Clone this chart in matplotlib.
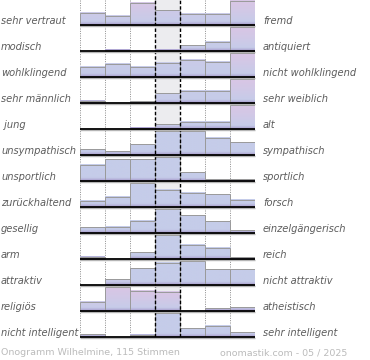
import numpy as np
import matplotlib
matplotlib.use('Agg')
import matplotlib.pyplot as plt
from matplotlib.transforms import blended_transform_factory
from matplotlib.colors import to_rgb

## Daten
left_labels = ['sehr vertraut', 'modisch', 'wohlklingend', 'sehr männlich', ' jung',
               'unsympathisch', 'unsportlich', 'zurückhaltend', 'gesellig', 'arm',
               'attraktiv', 'religiös', 'nicht intelligent']
right_labels = ['fremd', 'antiquiert', 'nicht wohlklingend', 'sehr weiblich', 'alt',
                'sympathisch', 'sportlich', 'forsch', 'einzelgängerisch', 'reich',
                'nicht attraktiv', 'atheistisch', 'sehr intelligent']

# relative Balkenhöhe je Zeile (100 = höchster Balken der Zeile)
row_values = [
    [51, 38, 90, 61, 45, 45, 100],
    [0, 6, 0, 6, 24, 38, 100],
    [41, 55, 41, 59, 71, 63, 100],
    [9, 0, 7, 39, 49, 49, 100],
    [0, 0, 5, 19, 29, 29, 100],
    [23, 15, 43, 100, 97, 71, 53],
    [67, 89, 89, 100, 35, 8, 8],
    [26, 42, 100, 70, 59, 53, 29],
    [24, 26, 51, 100, 72, 47, 12],
    [9, 0, 27, 100, 58, 45, 8],
    [0, 24, 69, 90, 100, 65, 65],
    [38, 100, 82, 79, 0, 11, 15],
    [12, 0, 9, 100, 36, 45, 19],
]
# Farbton je Balken: 0 = blau, 1 = rosa
row_tint = [
    [0.3, 0.2, 0.7, 0.3, 0.2, 0.2, 0.8],
    [0.1, 0.1, 0.1, 0.1, 0.1, 0.1, 0.8],
    [0.1, 0.1, 0.1, 0.1, 0.2, 0.1, 0.8],
    [0.1, 0.1, 0.1, 0.1, 0.1, 0.1, 0.8],
    [0.1, 0.1, 0.1, 0.1, 0.1, 0.1, 0.8],
    [0.0] * 7,
    [0.0] * 7,
    [0.0] * 7,
    [0.0] * 7,
    [0.0] * 7,
    [0.0, 0.2, 0.0, 0.0, 0.0, 0.0, 0.0],
    [0.3, 0.8, 0.8, 0.8, 0.0, 0.1, 0.1],
    [0.0] * 7,
]
footer_left = 'Onogramm Wilhelmine, 115 Stimmen'
footer_right = 'onomastik.com - 05 / 2025'

## Farben
blue = np.array(to_rgb('#c5cce9'))
pink = np.array(to_rgb('#dcc5e4'))
purple = np.array(to_rgb('#a495c8'))

W, H = 370, 360
fig = plt.figure(figsize=(W / 100, H / 100), dpi=100)
fig.patch.set_facecolor('white')
ax = fig.add_axes([80 / W, 23 / H, 175 / W, 337 / H])
ax.set_axis_off()

nrows = len(row_values)
nbins = 7
px = 26.0  # Pixel pro Zeile
full_h = 24.5 / px

ax.axvspan(3, 4, color='#ececef', zorder=0, lw=0)

for i in range(nrows):
    base = nrows - 1 - i
    for j in range(nbins):
        v = row_values[i][j]
        if v <= 0:
            continue
        h = v / 100 * full_h
        hp = h * px
        n = 60
        yy = np.linspace(0, hp, n)
        frac = yy / max(hp, 1e-6)
        t = row_tint[i][j] * np.clip(frac * 1.3 - 0.1, 0, 1)
        col = blue[None, :] * (1 - t[:, None]) + pink[None, :] * t[:, None]
        w = np.clip(1 - yy / 3.5, 0, 1) ** 1.2
        col = col * (1 - w[:, None]) + purple[None, :] * w[:, None]
        img = col[:, None, :]
        ax.imshow(img, extent=(j, j + 1, base, base + h), aspect='auto',
                  origin='lower', interpolation='bilinear', zorder=2)
        ax.bar(j, h, width=1, bottom=base, align='edge', fill=False,
               edgecolor='#9a9a9a', linewidth=0.7, zorder=3)

# senkrechte Linien
for x in [0, 1, 2, 5, 6, 7]:
    ax.axvline(x, color='#8a8a8a', lw=0.7, linestyle=(0, (1, 1.4)), zorder=1)
for x in [3, 4]:
    ax.axvline(x, color='black', lw=1.0, linestyle=(0, (2.5, 1.5)), zorder=4)

# Grundlinien
for i in range(nrows):
    base = nrows - 1 - i
    ax.hlines(base - 1.3 / px, 0, 7, color='#b5b5b5', lw=1.0, zorder=4, clip_on=False)
    ax.hlines(base, 0, 7, color='black', lw=1.3, zorder=5, clip_on=False)

ax.set_xlim(0, 7)
ax.set_ylim(0, 337 / px)

trans = blended_transform_factory(fig.transFigure, ax.transData)
for i in range(nrows):
    base = nrows - 1 - i
    ax.text(1 / W, base + 1.2 / px, left_labels[i], transform=trans,
            fontsize=7.1, style='italic', color='#5c5c5c', va='baseline', ha='left')
    ax.text(263 / W, base + 1.2 / px, right_labels[i], transform=trans,
            fontsize=7.1, style='italic', color='#5c5c5c', va='baseline', ha='left')

fig.text(1 / W, 1 - 355 / H, footer_left, fontsize=6.8, color='#bbbbbb',
         va='baseline', ha='left')
fig.text(347 / W, 1 - 355 / H, footer_right, fontsize=6.8, color='#bbbbbb',
         va='baseline', ha='right')

fig.savefig('out.png', dpi=100)
